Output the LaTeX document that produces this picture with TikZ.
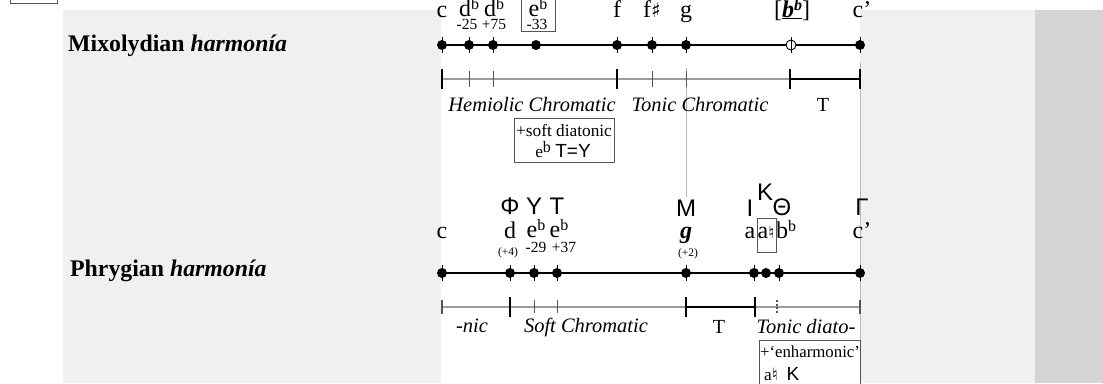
\documentclass[tikz,border=0pt]{standalone}
\usepackage{fontspec}
\setmainfont{Liberation Serif}
\newfontfamily\gk{Liberation Sans}
\newfontfamily\symf{DejaVu Sans}
\newcommand\fl{\raisebox{.27em}{\fontsize{16}{16}\selectfont b}}
\newcommand\shp{{\symf\fontsize{20}{20}\selectfont ♯}}
\newcommand\nat{{\symf\fontsize{17}{17}\selectfont ♮}}
\definecolor{bgl}{HTML}{F1F0EF}
\definecolor{bgd}{HTML}{D4D4D4}
\definecolor{sgray}{HTML}{9C9C9C}
\definecolor{tgray}{HTML}{555555}
\begin{document}
\begin{tikzpicture}[x=1pt,y=-1pt,
  pitch/.style={anchor=base, inner sep=0, font=\fontsize{24}{24}\selectfont},
  cents/.style={anchor=base, inner sep=0, font=\fontsize{15.5}{15.5}\selectfont},
  small/.style={anchor=base, inner sep=0, font=\fontsize{11.5}{11.5}\selectfont},
  greek/.style={anchor=base, inner sep=0, font=\gk\fontsize{24}{24}\selectfont},
  lab/.style={anchor=base, inner sep=0, font=\itshape\fontsize{20.5}{20.5}\selectfont},
  boxtxt/.style={anchor=base, inner sep=0, font=\fontsize{17.3}{17.3}\selectfont},
  title/.style={anchor=base west, inner sep=0, font=\bfseries\fontsize{23.8}{23.8}\selectfont},
  dot/.style={circle, fill=black, inner sep=0, minimum size=10pt},
  odot/.style={circle, draw=black, fill=white, line width=0.9pt, inner sep=0, minimum size=10pt},
  mainline/.style={line width=1.5pt},
  scaleline/.style={line width=1.2pt, sgray},
  thickseg/.style={line width=2.6pt},
  thicktick/.style={line width=2.6pt},
  thintick/.style={line width=1pt, tgray},
  dtick/.style={line width=1pt},
  frame/.style={draw=tgray, line width=0.8pt},
  guide/.style={line width=0.8pt, gray!55}]
\clip (0,0) rectangle (1103,383);
% background
\fill[white] (0,0) rectangle (1103,383);
\fill[bgl] (63,10) rectangle (1035,383);
\fill[bgd] (1035,10) rectangle (1103,383);
\fill[white] (441,10) rectangle (860,383);
\draw[frame] (10,-10) rectangle (57,3);
% guides
\coordinate (gA) at (686,68);
\coordinate (gB) at (686,197);
\coordinate (gC) at (860,62);
\coordinate (gD) at (860,383);
\draw[guide] (gA) -- (gB);
\draw[guide] (gC) -- (gD);
% titles
\node[title] (mixo) at (68,51) {Mixolydian \textit{harmonía}};
\node[title] (phry) at (70,276) {Phrygian \textit{harmonía}};

% ===== Mixolydian =====
\node[pitch] (pc) at (442,17) {c};
\node[pitch] (pd1) at (469,16) {d\fl};
\node[pitch] (pd2) at (494,16) {d\fl};
\node[pitch] (pe) at (538,16) {e\fl};
\node[pitch] (pf) at (617,17) {f};
\node[pitch] (pfs) at (652,17) {f\shp};
\node[pitch] (pg) at (686,17) {g};
\node[pitch] (pbb) at (792,17) {[\underline{\textbf{\textit{b\fl}}}]};
\node[pitch] (pc2) at (862,17) {c’};
\node[cents] (cd1) at (467,29) {-25};
\node[cents] (cd2) at (494,29) {+75};
\node[cents] (ce) at (537,29) {-33};
\draw[frame] (521,-2) rectangle (555,31);

\coordinate (m1) at (442,45);
\coordinate (m2) at (469,45);
\coordinate (m3) at (493,45);
\coordinate (m4) at (536,45);
\coordinate (m5) at (617,45);
\coordinate (m6) at (652,45);
\coordinate (m7) at (686,45);
\coordinate (m8) at (791,45);
\coordinate (m9) at (860,45);
\draw[mainline] (m1) -- (m9);
\foreach \c in {m1,m2,m3,m5,m6,m7,m8,m9}
  \draw[dtick] (\c) ++(0,-8) -- ++(0,16);
\foreach \c in {m1,m2,m3,m4,m5,m6,m7,m9}
  \node[dot] (d\c) at (\c) {};
\node[odot] (dm8) at (m8) {};
\draw[line width=0.9pt] (dm8.north) -- (dm8.south);

\coordinate (s1) at (442,79);
\coordinate (s2) at (469,79);
\coordinate (s3) at (493,79);
\coordinate (s4) at (617,79);
\coordinate (s5) at (652,79);
\coordinate (s6) at (686,79);
\coordinate (s7) at (790,79);
\coordinate (s8) at (860,79);
\draw[scaleline] (s1) -- (s7);
\draw[thickseg] (s7) -- (s8);
\foreach \c in {s1,s4,s7,s8}
  \draw[thicktick] (\c) ++(0,-10) -- ++(0,20);
\foreach \c in {s2,s3,s5,s6}
  \draw[thintick] (\c) ++(0,-8) -- ++(0,16);

\node[lab] (l1) at (532,111) {Hemiolic Chromatic};
\node[lab] (l2) at (700,111) {Tonic Chromatic};
\node[pitch, font=\fontsize{20}{20}\selectfont] (l3) at (823,111) {T};
\draw[frame] (514,118) rectangle (614,162);
\node[boxtxt] (b1a) at (564,136) {+soft diatonic};
\node[boxtxt] (b1b) at (563,157) {e\fl\ {\gk\fontsize{19}{19}\selectfont Τ=Υ}};

% ===== Phrygian =====
\node[greek] (gPhi) at (510,214) {Φ};
\node[greek] (gY) at (534,214) {Υ};
\node[greek] (gT) at (557,214) {Τ};
\node[greek] (gM) at (686,216) {Μ};
\node[greek] (gI) at (750,216) {Ι};
\node[greek] (gK) at (765,200) {Κ};
\node[greek] (gTh) at (782,215) {Θ};
\node[greek] (gG) at (862,215) {Γ};

\node[pitch] (qc) at (442,238) {c};
\node[pitch] (qd) at (510,238) {d};
\node[pitch] (qe1) at (536,237) {e\fl};
\node[pitch] (qe2) at (559,237) {e\fl};
\node[pitch] (qg) at (686,238) {\textbf{\textit{g}}};
\node[pitch] (qa) at (750,238) {a};
\node[pitch] (qan) at (766,238) {a\nat};
\node[pitch] (qb) at (786,238) {b\fl};
\node[pitch] (qc2) at (862,238) {c’};
\draw[frame] (757,218) rectangle (776,252);
\node[small] (r1) at (508,255) {(+4)};
\node[cents] (r2) at (536,252) {-29};
\node[cents] (r3) at (564,252) {+37};
\node[small] (r4) at (688,256) {(+2)};

\coordinate (n1) at (442,273);
\coordinate (n2) at (510,273);
\coordinate (n3) at (534,273);
\coordinate (n4) at (557,273);
\coordinate (n5) at (686,273);
\coordinate (n6) at (754,273);
\coordinate (n7) at (766,273);
\coordinate (n8) at (779,273);
\coordinate (n9) at (860,273);
\draw[mainline] (n1) -- (n9);
\foreach \c in {n1,n2,n3,n4,n5,n6,n8,n9}
  \draw[dtick] (\c) ++(0,-8) -- ++(0,16);
\foreach \c in {n1,n2,n3,n4,n5,n6,n7,n8,n9}
  \node[dot] (d\c) at (\c) {};

\coordinate (t1) at (442,307);
\coordinate (t2) at (510,307);
\coordinate (t3) at (534,307);
\coordinate (t4) at (557,307);
\coordinate (t5) at (686,307);
\coordinate (t6) at (755,307);
\coordinate (t7) at (777,307);
\coordinate (t8) at (860,307);
\draw[scaleline] (t1) -- (t8);
\draw[thickseg] (t5) -- (t6);
\foreach \c in {t2,t5,t6}
  \draw[thicktick] (\c) ++(0,-10) -- ++(0,20);
\foreach \c in {t1,t8}
  \draw[thintick, line width=1.2pt] (\c) ++(0,-7) -- ++(0,14);
\foreach \c in {t3,t4}
  \draw[thintick] (\c) ++(0,-7) -- ++(0,13);
\draw[line width=1.8pt, tgray, dash pattern=on 2pt off 1.5pt] (t7) ++(0,-7) -- ++(0,14);

\node[lab] (u1) at (472,332) {-nic};
\node[lab] (u2) at (586,332) {Soft Chromatic};
\node[pitch, font=\fontsize{20}{20}\selectfont] (u3) at (719,333) {T};
\node[lab] (u4) at (806,333) {Tonic diato-};
\draw[frame] (759,340) rectangle (860,395);
\node[boxtxt, font=\fontsize{16.8}{16.8}\selectfont] (b2a) at (810,357) {+‘enharmonic’};
\node[boxtxt, anchor=base west] (b2b) at (764,380) {a\nat\ \ {\gk\fontsize{19}{19}\selectfont Κ}};
\end{tikzpicture}
\end{document}
